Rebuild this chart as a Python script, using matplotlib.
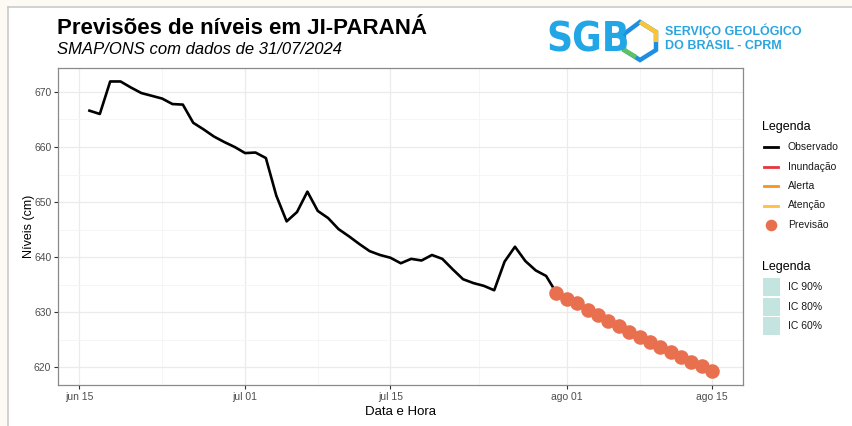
import numpy as np
import pandas as pd
import matplotlib
matplotlib.use("Agg")
import matplotlib.pyplot as plt
from matplotlib.patches import Rectangle, Polygon

plt.rcParams['font.family'] = ['Liberation Sans', 'DejaVu Sans']

# observed river level (cm), daily from 16/06/2024
obs_start = "2024-06-16"
obs_levels = [666.6, 666.0, 671.9, 671.9, 670.8, 669.8, 669.3, 668.8, 667.8, 667.7,
              664.4, 663.2, 661.9, 660.9, 660.0,
              658.9, 659.0, 658.0, 651.2, 646.5, 648.2, 651.9, 648.4, 647.1, 645.1,
              643.8, 642.4, 641.1, 640.4, 639.9, 638.9, 639.7, 639.4, 640.4, 639.7,
              637.8, 636.0, 635.3, 634.8, 634.0, 639.2, 641.9, 639.3, 637.6, 636.6,
              633.5]

# SMAP forecast, daily from 31/07/2024
prev_start = "2024-07-31"
prev_levels = [633.5, 632.5, 631.6, 630.5, 629.5, 628.5, 627.6, 626.5, 625.6, 624.6,
               623.7, 622.8, 621.9, 621.0, 620.2, 619.3]

x_ticks = ["2024-06-15", "2024-07-01", "2024-07-15", "2024-08-01", "2024-08-15"]
x_tick_labels = ["jun 15", "jul 01", "jul 15", "ago 01", "ago 15"]
x_minor = ["2024-06-23T00:00", "2024-07-08T00:00", "2024-07-23T12:00", "2024-08-08T00:00"]
y_ticks = [620, 630, 640, 650, 660, 670]

legend_items = ["Observado", "Inundação", "Alerta", "Atenção", "Previsão"]
legend_colors = ["black", "#e8343e", "#f7941d", "#fdc040", "#e8704f"]
ic_items = ["IC 90%", "IC 80%", "IC 60%"]

obs_dates = pd.date_range(obs_start, periods=len(obs_levels), freq="D")
prev_dates = pd.date_range(prev_start, periods=len(prev_levels), freq="D")

W, H = 853, 426
fig = plt.figure(figsize=(W / 100, H / 100), dpi=100)
fig.patch.set_facecolor("white")

# overlay in pixel coords for frame, header and legends
ov = fig.add_axes([0, 0, 1, 1], zorder=0)
ov.set_xlim(0, W)
ov.set_ylim(H, 0)
ov.axis("off")
ov.add_patch(Rectangle((0, 0), W, 6, color="#fcfaf3", lw=0))
ov.add_patch(Rectangle((0, 0), 7.5, H, color="#fcfaf3", lw=0))
ov.plot([8, W], [6.5, 6.5], color="#c9c9c9", lw=1.2)
ov.plot([8, 8], [6.5, H], color="#c9c9c9", lw=1.2)

ax = fig.add_axes([58.3 / W, 1 - 385 / H, 685 / W, 317.3 / H], zorder=1)
ax.set_facecolor("white")

ax.plot(obs_dates, obs_levels, color="black", lw=1.9, zorder=3)
ax.scatter(prev_dates, prev_levels, s=110, color="#e8704f", lw=0, zorder=4)

ax.set_xlim(pd.Timestamp("2024-06-13"), pd.Timestamp("2024-08-18"))
ax.set_ylim(616.8, 674.4)
ax.set_xticks(pd.to_datetime(x_ticks))
ax.set_xticklabels(x_tick_labels)
ax.set_xticks(pd.to_datetime(x_minor, format="ISO8601"), minor=True)
ax.set_yticks(y_ticks)
ax.set_yticks([625, 635, 645, 655, 665], minor=True)
ax.grid(which="major", color="#ebebeb", lw=0.9)
ax.grid(which="minor", color="#f4f4f4", lw=0.6)
ax.set_axisbelow(True)
ax.tick_params(which="major", length=3, width=0.8, color="#333333",
               labelsize=7.5, labelcolor="#4d4d4d", pad=2)
ax.tick_params(which="minor", length=0)
for s in ax.spines.values():
    s.set_color("#8a8a8a")
    s.set_linewidth(0.9)
ax.set_xlabel("Data e Hora", fontsize=9.5, labelpad=3)
ax.set_ylabel("Níveis (cm)", fontsize=9)
ax.yaxis.set_label_coords(-0.034, 0.5)

# header
ov.text(57, 28, "Previsões de níveis em JI-PARANÁ", fontsize=16,
        fontweight="bold", va="center", ha="left")
ov.text(57, 50, "SMAP/ONS com dados de 31/07/2024", fontsize=12,
        style="italic", va="center", ha="left")

# logo
ov.text(546, 40, "SGB", fontsize=29, fontweight="bold", color="#22a6e6",
        va="center", ha="left", family="DejaVu Sans", stretch="condensed")
ov.add_patch(Polygon([[624, 34], [640, 22], [656, 32], [656, 50], [640, 60], [624, 50]],
                     closed=True, fill=False, edgecolor="#1e8fe0", lw=3.2))
ov.plot([640, 656, 656], [22, 32, 42], color="#f8c53a", lw=3.2, solid_capstyle="butt")
ov.plot([624, 624, 636], [40, 50, 57], color="#5cc35e", lw=3.2, solid_capstyle="butt")
ov.text(665, 31, "SERVIÇO GEOLÓGICO", fontsize=9, fontweight="bold",
        color="#2aa5e0", va="center", ha="left")
ov.text(665, 46, "DO BRASIL - CPRM", fontsize=9, fontweight="bold",
        color="#2aa5e0", va="center", ha="left")

# legends
ov.text(762, 127, "Legenda", fontsize=9, va="center", ha="left")
for i, (lab, col) in enumerate(zip(legend_items, legend_colors)):
    yy = 147 + i * 19.5
    if lab == "Previsão":
        ov.scatter([771], [yy], s=70, color=col, lw=0)
    else:
        ov.plot([764, 778], [yy, yy], color=col, lw=2)
    ov.text(788, yy, lab, fontsize=7.5, va="center", ha="left", color="#1a1a1a")

ov.text(762, 267, "Legenda", fontsize=9, va="center", ha="left")
for i, lab in enumerate(ic_items):
    yy = 287 + i * 19.5
    ov.add_patch(Rectangle((763, yy - 9), 17, 18, color="#c3e4df", lw=0))
    ov.text(788, yy, lab, fontsize=7.5, va="center", ha="left", color="#1a1a1a")

fig.savefig("out.png", dpi=100)
